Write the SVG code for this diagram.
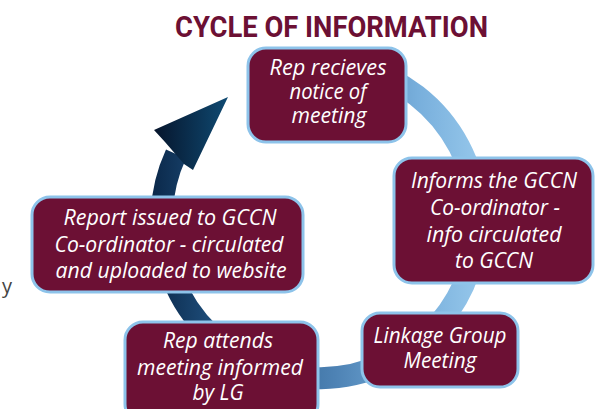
<svg xmlns="http://www.w3.org/2000/svg" width="608" height="409" viewBox="0 0 608 409">
<defs>
<linearGradient id="ringGrad" gradientUnits="userSpaceOnUse" x1="150" y1="0" x2="485" y2="0">
<stop offset="0" stop-color="#0a2748"/>
<stop offset="0.2" stop-color="#1f507e"/>
<stop offset="0.55" stop-color="#4d82b4"/>
<stop offset="0.8" stop-color="#78afdc"/>
<stop offset="1" stop-color="#98c9ec"/>
</linearGradient>
<linearGradient id="headGrad" x1="0" y1="0" x2="1" y2="0">
<stop offset="0" stop-color="#06152c"/>
<stop offset="1" stop-color="#0f4a72"/>
</linearGradient>
</defs>
<style>
.box{fill:#6c1034;stroke:#8dc3ea;stroke-width:3}
.lbl{font-family:"Open Sans","Noto Sans",sans-serif;font-style:italic;font-size:21px;fill:#ffffff;text-anchor:middle}
.title{font-family:"Roboto","Liberation Sans",sans-serif;font-weight:bold;font-size:29px;fill:#6c1034}
</style>
<text class="title" x="175" y="37" textLength="313" lengthAdjust="spacingAndGlyphs">CYCLE OF INFORMATION</text>
<text x="2" y="293" style="font-family:'Open Sans','Liberation Sans',sans-serif;font-size:20px;fill:#444444">y</text>
<g id="connectors">
<path d="M 362 68 A 158 158 0 1 1 176 154" fill="none" stroke="url(#ringGrad)" stroke-width="22"/>
<polygon points="228,97 193,170 184,164 165,142 154,130" fill="url(#headGrad)"/>
</g>
<g id="node-rep-receives">
<rect class="box" x="248" y="48" width="158" height="94" rx="18"/>
<text class="lbl" x="328" y="75" textLength="117" lengthAdjust="spacingAndGlyphs">Rep recieves</text>
<text class="lbl" x="328" y="99" textLength="77" lengthAdjust="spacingAndGlyphs">notice of</text>
<text class="lbl" x="329" y="123" textLength="75" lengthAdjust="spacingAndGlyphs">meeting</text>
</g>
<g id="node-informs">
<rect class="box" x="394" y="158" width="199" height="125" rx="18"/>
<text class="lbl" x="494" y="188" textLength="166" lengthAdjust="spacingAndGlyphs">Informs the GCCN</text>
<text class="lbl" x="495" y="215" textLength="130" lengthAdjust="spacingAndGlyphs">Co-ordinator -</text>
<text class="lbl" x="494" y="242" textLength="135" lengthAdjust="spacingAndGlyphs">info circulated</text>
<text class="lbl" x="494" y="268" textLength="78" lengthAdjust="spacingAndGlyphs">to GCCN</text>
</g>
<g id="node-report">
<rect class="box" x="32" y="197" width="271" height="95" rx="18"/>
<text class="lbl" x="170" y="225" textLength="213" lengthAdjust="spacingAndGlyphs">Report issued to GCCN</text>
<text class="lbl" x="169" y="252" textLength="229" lengthAdjust="spacingAndGlyphs">Co-ordinator - circulated</text>
<text class="lbl" x="171" y="278" textLength="231" lengthAdjust="spacingAndGlyphs">and uploaded to website</text>
</g>
<g id="node-rep-attends">
<rect class="box" x="125" y="322" width="193" height="100" rx="18"/>
<text class="lbl" x="218" y="348" textLength="110" lengthAdjust="spacingAndGlyphs">Rep attends</text>
<text class="lbl" x="220" y="375" textLength="166" lengthAdjust="spacingAndGlyphs">meeting informed</text>
<text class="lbl" x="218" y="400" textLength="51" lengthAdjust="spacingAndGlyphs">by LG</text>
</g>
<g id="node-linkage">
<rect class="box" x="362" y="313" width="156" height="74" rx="18"/>
<text class="lbl" x="440" y="343" textLength="133" lengthAdjust="spacingAndGlyphs">Linkage Group</text>
<text class="lbl" x="440" y="368" textLength="73" lengthAdjust="spacingAndGlyphs">Meeting</text>
</g>
</svg>
